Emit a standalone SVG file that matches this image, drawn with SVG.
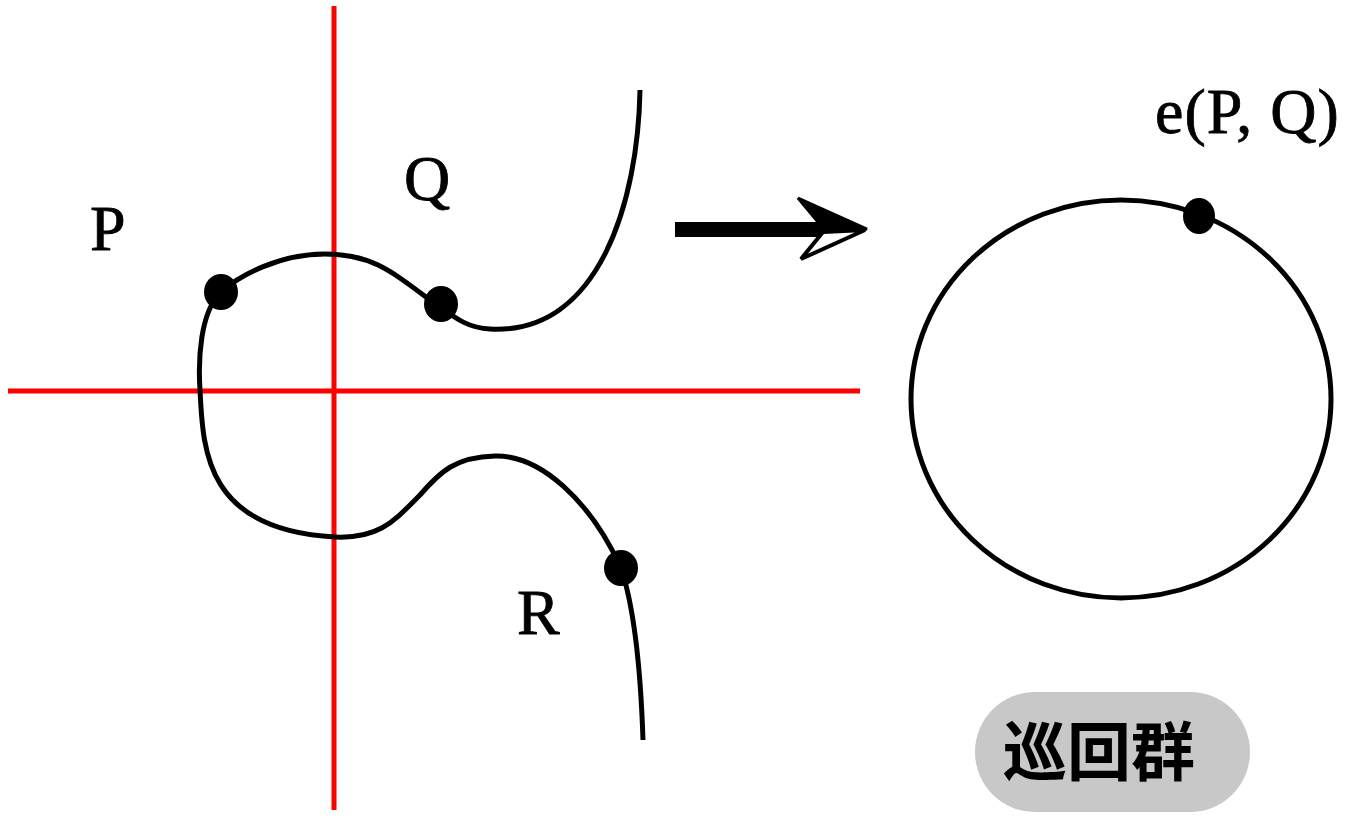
<svg xmlns="http://www.w3.org/2000/svg" width="1353" height="826" viewBox="0 0 1353 826">
<style>
.axis{stroke:#ff0000;stroke-width:5;fill:none}
.curve{stroke:#000;stroke-width:5;fill:none}
.dot{fill:#000}
.lbl{font-family:"Liberation Serif","DejaVu Serif",serif;font-size:64px;fill:#000;stroke:#000;stroke-width:0.8;letter-spacing:1px}
.cjk{font-family:"Noto Sans CJK SC","Noto Sans CJK JP",sans-serif;font-size:64px;font-weight:bold;fill:#000}
</style>
<rect width="1353" height="826" fill="#fff"/>
<g id="axes">
<line class="axis" x1="334" y1="6" x2="334" y2="810"/>
<line class="axis" x1="8" y1="391" x2="860" y2="391"/>
</g>
<g id="curve">
<path class="curve" d="M 640,90 C 638,200 600,335 490,329 C 465,328 452,315 430,300 C 390,270 370,254 325,254 C 280,254 240,275 221,292 C 200,312 198,360 200,390 C 203,450 205,530 335,537 C 380,539 395,520 420,495 C 440,472 455,457 495,456 C 540,455 590,500 621,568 C 635,610 641,680 643,740"/>
</g>
<g id="P"><ellipse class="dot" cx="221" cy="292" rx="17" ry="18"/><text class="lbl" x="90" y="250">P</text></g>
<g id="Q"><ellipse class="dot" cx="441" cy="304" rx="17" ry="18"/><text class="lbl" x="404" y="200">Q</text></g>
<g id="R"><ellipse class="dot" cx="621" cy="568" rx="17" ry="18"/><text class="lbl" x="517" y="634">R</text></g>
<g id="connectors">
<rect x="675" y="222" width="148" height="15" fill="#000"/>
<polygon points="798,198 867,229 823,231 818,222" fill="#000" stroke="#000" stroke-width="3" stroke-linejoin="miter"/>
<polygon points="823,232 865,230 801,259" fill="#fff" stroke="#000" stroke-width="4" stroke-linejoin="miter"/>
</g>
<g id="circle">
<ellipse class="curve" cx="1121" cy="399" rx="210" ry="199"/>
<ellipse class="dot" cx="1199" cy="216" rx="16" ry="18"/>
<text class="lbl" x="1155" y="133">e(P, Q)</text>
</g>
<g id="cyclic">
<rect x="975" y="692" width="275" height="120" rx="60" ry="60" fill="#c8c8c8"/>
<text class="cjk" x="1099" y="775" text-anchor="middle">巡回群</text>
</g>
</svg>
